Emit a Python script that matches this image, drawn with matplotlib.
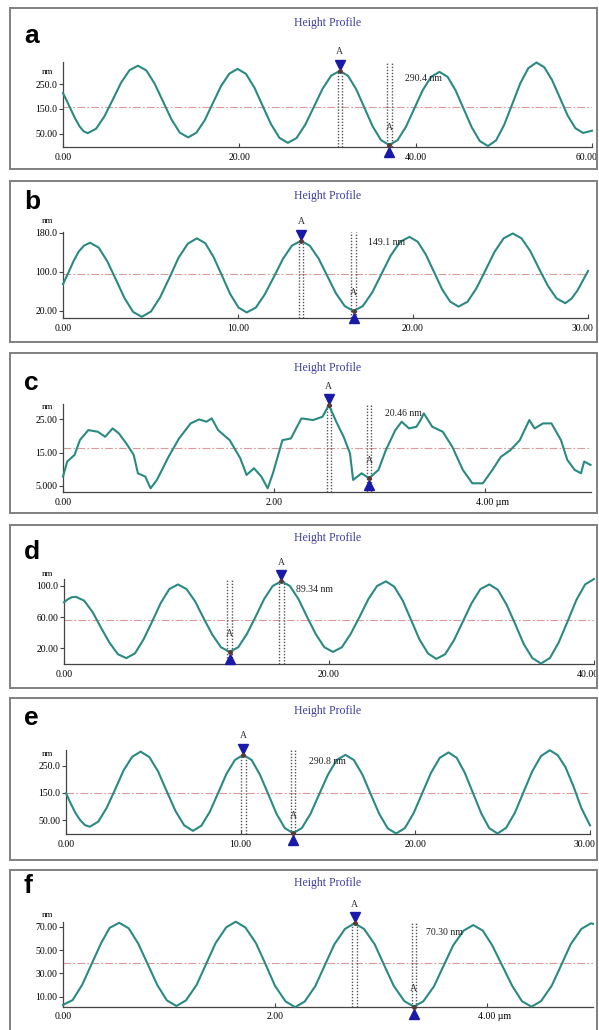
import numpy as np
import matplotlib.pyplot as plt
from matplotlib.patches import Rectangle
from matplotlib.transforms import offset_copy, ScaledTranslation

# ---- data ----
a_x = [0, 0.47, 0.93, 1.4, 1.87, 2.33, 2.8, 3.75, 4.7, 5.65, 6.6, 7.55, 8.5,
       9.45, 10.4, 11.35, 12.3, 13.25, 14.2, 15.13, 16.07, 17.0, 17.93, 18.87, 19.8,
       20.75, 21.7, 22.65, 23.6, 24.55, 25.5, 26.48, 27.47, 28.45, 29.43, 30.42, 31.4,
       32.33, 33.27, 34.2, 35.13, 36.07, 37.0, 37.95, 38.9, 39.85, 40.8, 41.75, 42.7,
       43.62, 44.53, 45.45, 46.37, 47.28, 48.2, 49.12, 50.03, 50.95, 51.87, 52.78, 53.7,
       54.58, 55.47, 56.35, 57.23, 58.12, 59.0, 60.0]
a_y = [214, 180, 145, 110, 80, 60, 52, 70, 120, 188, 257, 307, 325,
       306, 252, 180, 108, 54, 35, 54, 104, 174, 243, 293, 312,
       292, 237, 162, 88, 33, 13, 32, 86, 158, 231, 285, 304,
       284, 229, 154, 79, 24, 4, 24, 78, 152, 226, 280, 300,
       280, 225, 150, 75, 20, 0, 23, 85, 169, 254, 315, 338,
       319, 267, 196, 124, 72, 53, 62]

b_x = [0, 0.3, 0.6, 0.9, 1.2, 1.55, 2.04, 2.53, 3.03, 3.52, 4.01, 4.5,
       5.03, 5.55, 6.08, 6.6, 7.13, 7.65, 8.13, 8.6, 9.08, 9.55, 10.03, 10.5,
       11.02, 11.53, 12.05, 12.57, 13.08, 13.6, 14.1, 14.6, 15.1, 15.6, 16.1, 16.6,
       17.13, 17.67, 18.2, 18.73, 19.27, 19.8, 20.27, 20.73, 21.2, 21.67, 22.13, 22.6,
       23.12, 23.63, 24.15, 24.67, 25.18, 25.7, 26.2, 26.7, 27.2, 27.7, 28.2, 28.7,
       29.05, 29.4, 29.7, 30.0]
b_y = [75, 98, 122, 142, 154, 160, 150, 122, 84, 46, 18, 8,
       19, 48, 88, 129, 158, 169, 159, 131, 93, 55, 27, 17,
       27, 54, 90, 127, 154, 164, 154, 128, 92, 56, 30, 20,
       30, 58, 96, 134, 162, 172, 162, 136, 100, 64, 39, 29,
       39, 67, 104, 142, 169, 179, 169, 143, 107, 72, 46, 36,
       45, 62, 82, 102]

c_x = [0.0, 0.04, 0.11, 0.16, 0.24, 0.33, 0.40, 0.47, 0.53, 0.60, 0.67, 0.71, 0.78,
       0.83, 0.89, 1.0, 1.10, 1.21, 1.29, 1.36, 1.41, 1.47, 1.58, 1.68, 1.74, 1.81,
       1.88, 1.94, 1.99, 2.08, 2.16, 2.26, 2.37, 2.46, 2.52, 2.59, 2.66, 2.72, 2.75,
       2.83, 2.90, 2.99, 3.06, 3.15, 3.21, 3.28, 3.35, 3.39, 3.42, 3.50, 3.60, 3.69,
       3.79, 3.88, 3.98, 4.07, 4.15, 4.24, 4.33, 4.42, 4.47, 4.55, 4.63, 4.72, 4.78,
       4.85, 4.91, 4.94, 5.0]
c_y = [7.8, 12.3, 14.3, 18.7, 21.7, 21.2, 19.7, 22.2, 20.7, 17.7, 14.3, 8.8, 7.8,
       4.3, 6.8, 13.7, 19.2, 23.7, 24.9, 24.2, 25.2, 21.7, 18.7, 13.3, 8.3, 10.3,
       7.8, 4.3, 8.8, 18.7, 19.2, 25.2, 24.7, 25.7, 29.2, 24.2, 19.7, 14.8, 6.8,
       8.8, 7.3, 9.8, 15.7, 21.7, 24.2, 22.2, 22.7, 24.7, 26.7, 22.7, 21.2, 16.7,
       9.8, 5.8, 5.8, 9.8, 13.7, 15.7, 18.7, 24.7, 22.2, 23.7, 23.7, 18.7, 12.8,
       9.8, 8.8, 12.3, 11.3]

d_x = [0, 0.3, 0.6, 0.9, 1.53, 2.17, 2.8, 3.43, 4.07, 4.7, 5.35, 6.0, 6.65, 7.3, 7.95, 8.6,
       9.25, 9.9, 10.55, 11.2, 11.85, 12.5, 13.15, 13.8, 14.45, 15.1, 15.75, 16.4,
       17.05, 17.7, 18.35, 19.0, 19.65, 20.3, 20.97, 21.63, 22.3, 22.97, 23.63, 24.3,
       24.93, 25.57, 26.2, 26.83, 27.47, 28.1, 28.77, 29.43, 30.1, 30.77, 31.43, 32.1,
       32.75, 33.4, 34.05, 34.7, 35.35, 36.0, 36.67, 37.33, 38.0, 38.67, 39.33, 40.0]
d_y = [79, 83, 85.5, 86, 81, 66, 46, 27, 12, 7, 13, 31, 54, 78, 96, 102,
       96, 80, 58, 37, 21, 15, 21, 38, 60, 83, 100, 106,
       100, 83, 60, 38, 21, 15, 21, 38, 60, 83, 100, 106,
       99, 81, 56, 31, 13, 6, 12, 30, 54, 78, 96, 102,
       95, 76, 51, 25, 7, 0, 7, 27, 54, 82, 102, 109]

e_x = [0, 0.27, 0.54, 0.82, 1.09, 1.36, 1.85, 2.33, 2.82, 3.3, 3.79, 4.27,
       4.77, 5.27, 5.77, 6.27, 6.77, 7.27, 7.75, 8.23, 8.71, 9.19, 9.67, 10.15,
       10.63, 11.1, 11.58, 12.05, 12.53, 13.0, 13.5, 14.0, 14.5, 15.0, 15.5, 16.0,
       16.48, 16.97, 17.45, 17.93, 18.42, 18.9, 19.4, 19.9, 20.4, 20.9, 21.4, 21.9,
       22.37, 22.83, 23.3, 23.77, 24.23, 24.7, 25.2, 25.7, 26.2, 26.7, 27.2, 27.7,
       28.15, 28.6, 29.05, 29.5, 30.0]
e_y = [149, 111, 76, 49, 31, 25, 44, 95, 164, 234, 284, 303,
       283, 230, 156, 83, 30, 10, 29, 80, 150, 221, 272, 291,
       272, 218, 146, 73, 20, 1, 20, 73, 146, 218, 272, 291,
       272, 218, 145, 73, 19, 0, 20, 75, 150, 225, 280, 300,
       280, 225, 150, 75, 20, 0, 21, 77, 154, 231, 287, 308,
       290, 245, 175, 95, 30]

f_x = [0, 0.09, 0.18, 0.27, 0.36, 0.44, 0.53, 0.62, 0.71, 0.80, 0.89, 0.98, 1.07,
       1.16, 1.26, 1.35, 1.44, 1.54, 1.63, 1.72, 1.82, 1.91, 2.0, 2.1, 2.19,
       2.28, 2.38, 2.47, 2.56, 2.66, 2.75, 2.84, 2.94, 3.03, 3.12, 3.22, 3.31,
       3.4, 3.5, 3.59, 3.68, 3.78, 3.87, 3.96, 4.05, 4.145, 4.24, 4.33, 4.42,
       4.51, 4.61, 4.70, 4.79, 4.89, 4.98, 5.0]
f_y = [3, 7, 20, 38, 56, 69, 73.4, 68.6, 55.5, 37.7, 19.9, 6.8, 2,
       6.8, 20, 38, 56, 69.5, 74.3, 69.4, 56, 38, 19.3, 5.9, 1,
       5.8, 19, 37, 54.9, 68.1, 72.9, 68.1, 55, 37, 19.3, 6.2, 1.4,
       6.1, 18.9, 36.4, 53.9, 66.7, 71.4, 66.7, 53.9, 36.4, 18.9, 6.1, 1.4,
       6.2, 19.3, 37, 55, 68.1, 72.9, 72.5]

letters = ['a', 'b', 'c', 'd', 'e', 'f']
means = [158, 96, 16.3, 56, 149, 38.6]
x_ticks = [[0, 20, 40, 60], [0, 10, 20, 30], [0, 2, 4], [0, 20, 40], [0, 10, 20, 30], [0, 2, 4]]
x_labels = [['0.00', '20.00', '40.00', '60.00'], ['0.00', '10.00', '20.00', '30.00'],
            ['0.00', '2.00', '4.00 µm'], ['0.00', '20.00', '40.00'],
            ['0.00', '10.00', '20.00', '30.00'], ['0.00', '2.00', '4.00 µm']]
y_ticks = [[250, 150, 50], [180, 100, 20], [25, 15, 5], [100, 60, 20], [250, 150, 50], [70, 50, 30, 10]]
y_labels = [['250.0', '150.0', '50.00'], ['180.0', '100.0', '20.00'], ['25.00', '15.00', '5.000'],
            ['100.0', '60.00', '20.00'], ['250.0', '150.0', '50.00'], ['70.00', '50.00', '30.00', '10.00']]
# cursor pairs: (x, y, kind)
cursors = [[(31.4, 304, 'peak'), (37.0, 4, 'trough')],
           [(13.6, 164, 'peak'), (16.6, 20, 'trough')],
           [(2.52, 29.2, 'peak'), (2.90, 7.3, 'trough')],
           [(12.5, 15, 'trough'), (16.4, 106, 'peak')],
           [(10.15, 291, 'peak'), (13.0, 1, 'trough')],
           [(2.75, 72.9, 'peak'), (3.31, 1.4, 'trough')]]
steps = ['290.4 nm', '149.1 nm', '20.46 nm', '89.34 nm', '290.8 nm', '70.30 nm']
step_pos = [(38.8, 275), (17.4, 160), (3.05, 26.8), (17.5, 96), (13.9, 268), (3.42, 64.9)]

series = [(a_x, a_y), (b_x, b_y), (c_x, c_y), (d_x, d_y), (e_x, e_y), (f_x, f_y)]

# ---- layout in pixels ----
W, H = 599, 1030
frames = [(10, 8, 597, 169), (10, 181, 597, 342), (10, 353, 597, 513),
          (10, 525, 597, 688), (10, 698, 597, 860), (10, 870, 597, 1034)]
axes_px = [(63, 592, 62, 147), (63, 588, 232, 318), (63, 590.5, 404, 492),
           (64, 594, 579, 664), (66, 590, 750, 834), (63, 593, 921.7, 1006.7)]
xlims = [(0, 60), (0, 30), (0, 5), (0, 40), (0, 30), (0, 5)]
ylims = [(-3.9, 340), (5.6, 182), (3.2, 29.5), (-0.6, 109), (-1.8, 309), (1.4, 74.3)]
title_y = [23, 196, 368, 538, 711, 883]
letter_y = [43, 209, 390, 559, 725, 893]

serif = 'Liberation Serif'
fig = plt.figure(figsize=(W / 100, H / 100), dpi=100)

for i in range(6):
    fl, ft, fr, fb = frames[i]
    fig.patches.append(Rectangle((fl / W, 1 - fb / H), (fr - fl) / W, (fb - ft) / H,
                                 transform=fig.transFigure, fill=False,
                                 ec='#808080', lw=1.4))
    l, r, t, b = axes_px[i]
    ax = fig.add_axes([l / W, 1 - b / H, (r - l) / W, (b - t) / H])
    ax.patch.set_alpha(0)
    x, y = series[i]
    ax.plot(x, y, color='#2a8a82', lw=1.5, clip_on=False, zorder=3,
            solid_joinstyle='round')
    ax.axhline(means[i], color='#d99a9a', lw=0.8, ls=(0, (7, 2, 1.5, 2)), zorder=1)
    ax.set_xlim(xlims[i])
    ax.set_ylim(ylims[i])
    for s in ['top', 'right']:
        ax.spines[s].set_visible(False)
    for s in ['left', 'bottom']:
        ax.spines[s].set_color('#444444')
        ax.spines[s].set_linewidth(0.9)
    ax.set_xticks(x_ticks[i])
    ax.set_xticklabels(x_labels[i], fontsize=7, family=serif)
    ax.set_yticks(y_ticks[i])
    ax.set_yticklabels(y_labels[i], fontsize=7, family=serif)
    ax.tick_params(axis='x', direction='in', length=3, pad=4, color='#444444')
    ax.tick_params(axis='y', direction='out', length=3, pad=1, color='#444444')
    last = ax.get_xticklabels()[-1]
    if 'µm' in x_labels[i][-1]:
        last.set_transform(last.get_transform() + ScaledTranslation(0.08, 0, fig.dpi_scale_trans))
    elif x_ticks[i][-1] == xlims[i][1]:
        last.set_ha('right')
        last.set_transform(last.get_transform() + ScaledTranslation(0.05, 0, fig.dpi_scale_trans))

    fig.text(328 / W, 1 - title_y[i] / H, 'Height Profile', ha='center', va='center',
             fontsize=8.5, family=serif, color='#3c3c9c')
    fig.text(24 / W, 1 - letter_y[i] / H, letters[i], ha='left', va='baseline',
             fontsize=19, fontweight='bold', family='Liberation Sans')
    yt = ax.transData.transform((0, y_ticks[i][0]))[1]
    fig.text(47 / W, (yt + 12) / H, 'nm', ha='center', va='center', fontsize=6.5, family=serif)

    # cursors
    dx = 2.3 * (xlims[i][1] - xlims[i][0]) / (r - l)
    for cx, cy, kind in cursors[i]:
        top = cy if kind == 'peak' else ylims[i][1]
        ax.vlines([cx - dx, cx + dx], ylims[i][0], top, colors='#555555',
                  linestyles=(0, (1, 1.2)), lw=1.0, clip_on=False, zorder=2)
        if kind == 'peak':
            ax.plot(cx, cy, marker='v', ms=7, color='#1a1aa8', clip_on=False, zorder=5,
                    transform=offset_copy(ax.transData, fig=fig, y=6, units='dots'))
        else:
            ax.plot(cx, cy, marker='^', ms=7, color='#1a1aa8', clip_on=False, zorder=5,
                    transform=offset_copy(ax.transData, fig=fig, y=-7, units='dots'))
        ax.plot(cx, cy, marker='o', ms=2.5, color='#5a3a3a', clip_on=False, zorder=6)
        ax.text(cx, cy, 'A', ha='center', va='center', fontsize=7, family=serif,
                color='#333333', clip_on=False,
                transform=offset_copy(ax.transData, fig=fig,
                                      y=19 if kind == 'peak' else 18, units='dots'))
    ax.text(step_pos[i][0], step_pos[i][1], steps[i], ha='left', va='center',
            fontsize=7, family=serif, color='#222222')

fig.savefig('out.png', dpi=100)
